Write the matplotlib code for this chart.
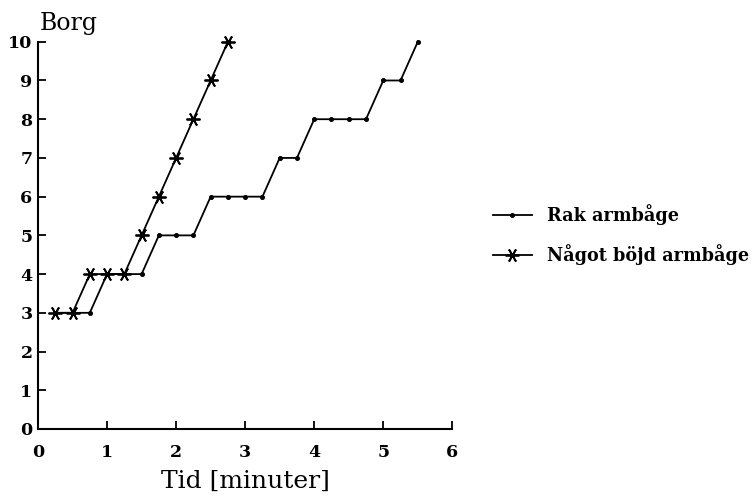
import matplotlib
matplotlib.use("Agg")
import matplotlib.pyplot as plt

# Borg-skala over tid
tid_rak = [0.25, 0.5, 0.75, 1.0, 1.25, 1.5, 1.75, 2.0, 2.25, 2.5, 2.75,
           3.0, 3.25, 3.5, 3.75, 4.0, 4.25, 4.5, 4.75, 5.0, 5.25, 5.5]
borg_rak = [3, 3, 3, 4, 4, 4, 5, 5, 5, 6, 6, 6, 6, 7, 7, 8, 8, 8, 8, 9, 9, 10]

tid_bojd = [0.25, 0.5, 0.75, 1.0, 1.25, 1.5, 1.75, 2.0, 2.25, 2.5, 2.75]
borg_bojd = [3, 3, 4, 4, 4, 5, 6, 7, 8, 9, 10]

xticks = [0, 1, 2, 3, 4, 5, 6]
yticks = [0, 1, 2, 3, 4, 5, 6, 7, 8, 9, 10]

fig = plt.figure(figsize=(7.56, 4.99), dpi=100)
ax = fig.add_axes([0.0503, 0.1403, 0.548, 0.776])

ax.plot(tid_rak, borg_rak, color="black", linewidth=1.3, marker="o",
        markersize=2.6, label="Rak armbåge", clip_on=False)
ax.plot(tid_bojd, borg_bojd, color="black", linewidth=1.3, marker=(6, 2, 90),
        markersize=10, markeredgewidth=1.3, label="Något böjd armbåge", clip_on=False)

ax.set_xlim(0, 6)
ax.set_ylim(0, 10)
ax.set_xticks(xticks)
ax.set_yticks(yticks)
for s in ["top", "right"]:
    ax.spines[s].set_visible(False)
for s in ["left", "bottom"]:
    ax.spines[s].set_linewidth(1.5)
ax.tick_params(direction="in", length=6, width=1.3, labelsize=12.5)
ax.tick_params(axis="x", pad=11)
ax.tick_params(axis="y", pad=4)
for lab in ax.get_xticklabels() + ax.get_yticklabels():
    lab.set_family("DejaVu Serif")
    lab.set_fontweight("bold")

fig.text(0.052, 0.93, "Borg", family="DejaVu Serif", fontsize=17, ha="left", va="bottom")
ax.set_xlabel("Tid [minuter]", family="DejaVu Serif", fontsize=18, labelpad=6)

leg = fig.legend(loc="center left", bbox_to_anchor=(0.631, 0.53), frameon=False,
                 handlelength=2.2, handletextpad=0.85, labelspacing=1.1,
                 prop={"family": "DejaVu Serif", "weight": "bold", "size": 12.7})

fig.savefig("out.png", dpi=100, facecolor="white")
